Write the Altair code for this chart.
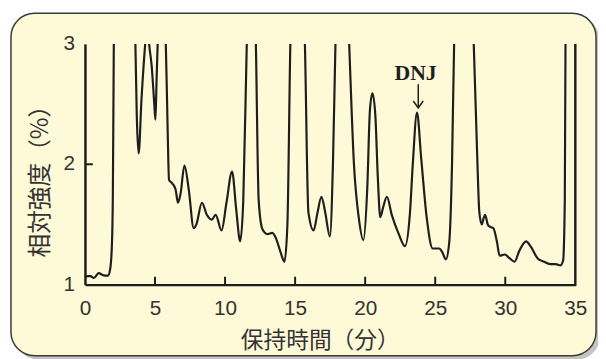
import altair as alt
import pandas as pd

# Chromatogram trace (retention time in min, relative intensity in %)
time_min = [0.0, 0.2, 0.4, 0.63, 0.98, 1.33, 1.64, 1.8, 1.92, 1.99, 2.06, 2.3, 3.3, 3.6, 3.7, 3.83, 4.04, 4.3, 4.45,
            4.58, 4.76, 4.95, 5.03, 5.11, 5.19, 5.45, 5.77, 5.9, 6.0, 6.24, 6.47, 6.64, 6.83, 7.1, 7.41, 7.76,
            7.95, 8.35, 8.7, 9.05, 9.33, 9.75, 10.1, 10.5, 10.8, 11.08, 11.3, 11.55, 11.9, 12.2, 12.4, 12.67,
            13.02, 13.37, 13.65, 13.96, 14.24, 14.45, 14.66, 15.2, 15.7, 15.95, 16.32, 16.6, 16.88, 17.15,
            17.48, 17.7, 17.88, 18.4, 18.86, 19.2, 19.55, 19.87, 20.15, 20.34, 20.52, 20.73, 20.9, 21.08,
            21.3, 21.55, 21.9, 22.4, 22.84, 23.2, 23.4, 23.7, 24.0, 24.4, 24.82, 25.05, 25.29, 25.5, 25.76,
            26.0, 26.2, 26.35, 27.0, 27.75, 27.99, 28.15, 28.33, 28.45, 28.56, 28.75, 28.92, 29.15, 29.4,
            29.6, 29.97, 30.3, 30.66, 31.0, 31.49, 31.8, 32.3, 32.77, 33.2, 33.6, 33.94, 34.13, 34.25, 34.3,
            34.6]
intensity = [1.06, 1.07, 1.07, 1.055, 1.095, 1.077, 1.075, 1.13, 1.32, 1.73, 3.0, 4.5, 4.2, 3.0, 2.4, 2.09, 2.55, 3.0, 3.2,
             3.0, 2.82, 2.5, 2.37, 2.69, 3.0, 3.5, 3.0, 2.3, 1.87, 1.84, 1.79, 1.68, 1.76, 1.99, 1.79, 1.47,
             1.50, 1.68, 1.58, 1.54, 1.58, 1.45, 1.68, 1.94, 1.62, 1.36, 1.7, 3.0, 4.5, 3.0, 1.7, 1.46,
             1.42, 1.43, 1.38, 1.27, 1.19, 1.5, 3.0, 4.5, 3.0, 1.6, 1.45, 1.6, 1.73, 1.6,
             1.40, 2.0, 3.0, 4.5, 3.0, 2.0, 1.55, 1.37, 1.8, 2.45, 2.59, 2.4, 1.9, 1.56,
             1.65, 1.73, 1.58, 1.42, 1.32, 1.6, 2.0, 2.43, 2.05, 1.55, 1.30, 1.30, 1.30, 1.27, 1.21,
             1.35, 2.0, 3.0, 4.5, 3.0, 2.1, 1.6, 1.50, 1.55, 1.58, 1.5, 1.48, 1.47, 1.36,
             1.24, 1.25, 1.22, 1.19, 1.28, 1.36, 1.32, 1.22, 1.19, 1.17, 1.17, 1.16, 1.2, 1.7, 3.0,
             4.5]

x_ticks = [0, 5, 10, 15, 20, 25, 30, 35]
y_ticks = [1, 2, 3]
y_tick_labels = ["1", "2", "3"]
inner_x_ticks = [5, 10, 15, 20, 25, 30]
inner_y_ticks = [2]

peak_label = "DNJ"
peak_time = 23.7
x_title = "保持時間（分）"
y_title = "相対強度（%）"

W, H = 497, 244
BG = "#FEF9D6"
INK = "#1e1e1e"
TXT = "#333333"
NUM_FONT = "Liberation Sans Narrow, Liberation Sans, Arial"

df = pd.DataFrame({"t": time_min, "v": intensity})
xs = alt.Scale(domain=[0, 35], nice=False, zero=False)
ys = alt.Scale(domain=[1, 3], nice=False, zero=False)

x_axis = alt.Axis(
    values=x_ticks, ticks=False, grid=False, domainColor=INK, domainWidth=2.5, format="d",
    labelFont=NUM_FONT, labelFontSize=21, labelColor=TXT, labelPadding=13,
    labelFlush=False, labelOverlap=False,
    title=x_title, titleFont="Noto Sans CJK JP", titleFontSize=23, titleFontWeight="normal",
    titleColor=TXT, titleX=238, titleY=57, titleBaseline="middle", titleAnchor="middle",
    zindex=1)
y_axis = alt.Axis(
    values=y_ticks, ticks=False, grid=False, domainColor=INK, domainWidth=2.5, labels=False,
    title=y_title, titleFont="Noto Sans CJK JP", titleFontSize=24, titleFontWeight="normal",
    titleColor=TXT, titleX=-45, titleY=133, titleBaseline="middle", titleAnchor="middle",
    titleAngle=270, zindex=1)

one = pd.DataFrame({"k": [0]})

shadow = alt.Chart(one).mark_rect(fill="#c4c4c4", cornerRadius=24).encode(
    x=alt.value(-71), x2=alt.value(522), y=alt.value(-27), y2=alt.value(320))

frame = alt.Chart(one).mark_rect(
    fill=BG, stroke="#3a3a3a", strokeWidth=1.5, cornerRadius=24
).encode(x=alt.value(-75), x2=alt.value(518), y=alt.value(-31), y2=alt.value(316))

line = alt.Chart(df).mark_line(
    color=INK, strokeWidth=2.2, interpolate="monotone", clip=True
).encode(
    x=alt.X("t:Q", scale=xs, axis=x_axis),
    y=alt.Y("v:Q", scale=ys, axis=y_axis),
)

right_edge = alt.Chart(one).mark_rule(color=INK, strokeWidth=2.5).encode(
    x=alt.datum(35), y=alt.value(0), y2=alt.value(H + 1.25))

xt = alt.Chart(pd.DataFrame({"t": inner_x_ticks})).mark_rule(color=INK, strokeWidth=2).encode(
    x=alt.X("t:Q", scale=xs, axis=x_axis), y=alt.value(H), y2=alt.value(H - 8))
yt = alt.Chart(pd.DataFrame({"v": inner_y_ticks})).mark_rule(color=INK, strokeWidth=2).encode(
    y=alt.Y("v:Q", scale=ys, axis=y_axis), x=alt.value(0), x2=alt.value(8))

ylab = alt.Chart(pd.DataFrame({"v": y_ticks, "s": y_tick_labels})).mark_text(
    align="right", baseline="middle", font=NUM_FONT, fontSize=21, color=TXT
).encode(y=alt.Y("v:Q", scale=ys, axis=y_axis), x=alt.value(-10), text="s:N")

label = alt.Chart(one).mark_text(
    text=peak_label, font="Liberation Serif", fontWeight="bold", fontSize=22, color=INK,
    baseline="alphabetic", align="center"
).encode(x=alt.datum(peak_time - 0.1), y=alt.datum(2.70))

arrow = alt.Chart(one).mark_rule(color=INK, strokeWidth=1.5).encode(
    x=alt.datum(peak_time + 0.09), y=alt.datum(2.665), y2=alt.datum(2.475))
head = alt.Chart(one).mark_point(
    shape="M-1,-0.7L0,0.7L1,-0.7", filled=False, stroke=INK, strokeWidth=1.5, size=100, opacity=1
).encode(x=alt.datum(peak_time + 0.09), y=alt.datum(2.497))

chart = alt.layer(shadow, frame, line, right_edge, xt, yt, ylab, label, arrow, head).properties(
    width=W, height=H,
    autosize="none",
    padding={"left": 78, "top": 34, "right": 23, "bottom": 73},
    background="white",
).configure_view(stroke=None)

chart.save("out.html", embed_options={"renderer": "svg", "actions": False})
